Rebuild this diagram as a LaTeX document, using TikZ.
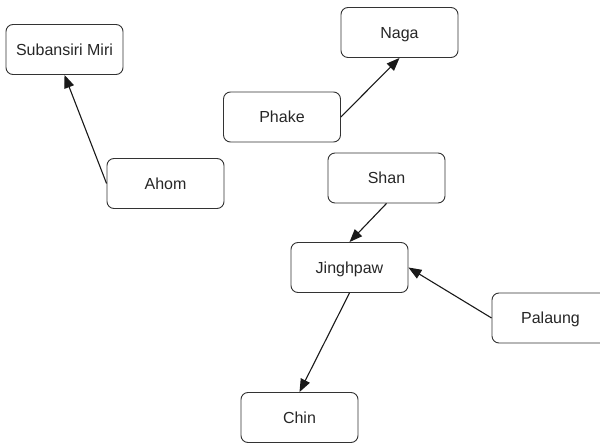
\documentclass[tikz,border=0pt]{standalone}
\usepackage{fontspec}
\setmainfont{Liberation Sans}
\usetikzlibrary{arrows.meta}
\begin{document}
\begin{tikzpicture}[x=1pt,y=-1pt,
  box/.style={draw=black!80,line width=0.9pt,rounded corners=7pt,minimum width=117pt,minimum height=50pt,inner sep=0pt,text height=11.5pt,text depth=0pt,font=\fontsize{16}{19}\selectfont,text=black!85},
  link/.style={draw=black!90,line width=1.1pt,-{Triangle[length=13pt,width=10pt]}}]
\useasboundingbox (0,0) rectangle (600,443);
\node[box] (sub) at (64.5,49.5) {Subansiri Miri};
\node[box] (naga) at (399.5,32.5) {Naga};
\node[box] (phake) at (282,117) {Phake};
\node[box] (ahom) at (165.5,183.5) {Ahom};
\node[box] (shan) at (386.5,178) {Shan};
\node[box] (jing) at (349.5,267.5) {Jinghpaw};
\node[box] (pal) at (550.5,318) {Palaung};
\node[box] (chin) at (299.5,417.5) {Chin};
\draw[link] (ahom.west) -- (sub.south);
\draw[link] (phake.east) -- (naga.south);
\draw[link] (shan.south) -- (jing.north);
\draw[link] (pal.west) -- (jing.east);
\draw[link] (jing.south) -- (chin.north);
\end{tikzpicture}
\end{document}
